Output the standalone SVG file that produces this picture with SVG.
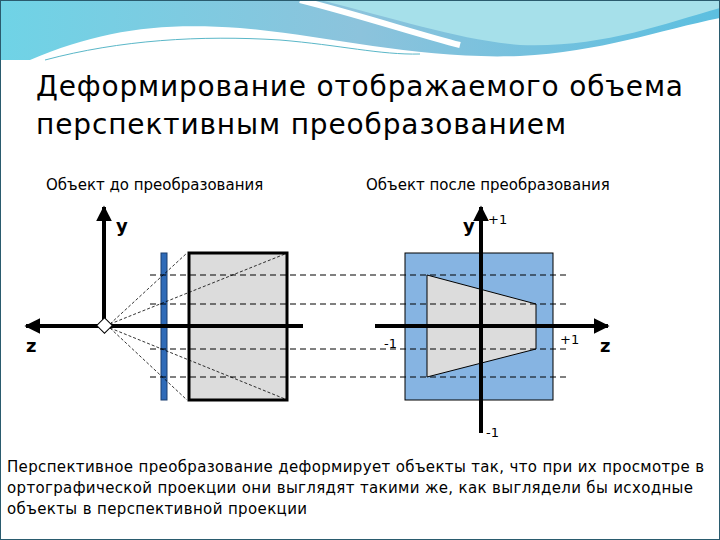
<svg xmlns="http://www.w3.org/2000/svg" width="720" height="540" viewBox="0 0 720 540">
<defs>
<linearGradient id="hg" x1="0" y1="0" x2="1" y2="0"><stop offset="0" stop-color="#6fd3e6"/><stop offset="0.5" stop-color="#8cc3dc"/><stop offset="1" stop-color="#5cbfe0"/></linearGradient>
<marker id="ar" viewBox="0 0 10 10" refX="9" refY="5" markerWidth="4" markerHeight="4" orient="auto"><path d="M0,0L10,5L0,10z" fill="#000"/></marker>
<style>
.ax{stroke:#000;stroke-width:4;fill:none}
.dash{stroke:#000;stroke-width:1;stroke-dasharray:6,4;fill:none}
.dot{stroke:#000;stroke-width:0.8;stroke-dasharray:3,2;fill:none}
.t{font-family:"DejaVu Sans",sans-serif;fill:#000}
.b{font-family:"DejaVu Sans",sans-serif;font-weight:bold;font-size:18px}
</style>
</defs>
<rect width="720" height="540" fill="#fff"/>
<g id="header">
<path d="M0,0H720V60H0z" fill="url(#hg)"/>
<path d="M30,60C100,30 160,22 240,28C330,36 420,60 520,56C600,52 660,30 720,18V60H0z" fill="#fff"/>
<path d="M320,0C400,20 460,40 520,45C600,48 660,25 720,8V0z" fill="#a6e0ea"/>
<path d="M300,0C360,15 420,35 460,45" stroke="#fff" stroke-width="6" fill="none"/>
<path d="M45,60C120,40 200,35 280,40C340,45 380,55 420,54" stroke="#5ab7c8" stroke-width="1" fill="none"/>
<rect x="0.5" y="0.5" width="719" height="539" fill="none" stroke="#2a5b6e" stroke-width="1"/>
</g>
<text class="t" x="36" y="96" font-size="28" fill="#404040" textLength="647" lengthAdjust="spacing">Деформирование отображаемого объема</text>
<text class="t" x="36" y="134" font-size="28" fill="#404040" textLength="530" lengthAdjust="spacing">перспективным преобразованием</text>
<text class="t" x="46" y="190" font-size="15">Объект до преобразования</text>
<text class="t" x="366" y="190" font-size="15">Объект после преобразования</text>
<g id="left">
<rect x="189" y="253" width="98" height="147" fill="#dcdcdc" stroke="#000" stroke-width="3"/>
<rect x="161" y="253" width="6" height="147" fill="#2f6bb8" stroke="#1a3f70" stroke-width="1"/>
<path class="dot" d="M110,324L187,253M110,324L285,254M110,328L187,400M110,328L285,399"/>
<line class="ax" x1="104" y1="326" x2="104" y2="207" marker-end="url(#ar)"/>
<line class="ax" x1="303" y1="326" x2="26" y2="326" marker-end="url(#ar)"/>
<rect x="99" y="320" width="11" height="11" fill="#fff" stroke="#000" stroke-width="1" transform="rotate(45 104.5 325.5)"/>
<text class="b" x="116" y="232">y</text>
<text class="b" x="26" y="352">z</text>
</g>
<g id="right">
<rect x="405" y="253" width="148" height="147" fill="#86b4e2" stroke="#000" stroke-width="1"/>
<path d="M427,275L536,304L536,349L427,377z" fill="#dcdcdc" stroke="#000" stroke-width="1"/>
<line class="ax" x1="481" y1="433" x2="481" y2="207" marker-end="url(#ar)"/>
<line class="ax" x1="375" y1="326" x2="608" y2="326" marker-end="url(#ar)"/>
<text class="b" x="463" y="232">y</text>
<text class="b" x="600" y="352">z</text>
<text class="t" x="488" y="224" font-size="13">+1</text>
<text class="t" x="384" y="348" font-size="13">-1</text>
<text class="t" x="560" y="344" font-size="13">+1</text>
<text class="t" x="486" y="437" font-size="13">-1</text>
</g>
<g id="connectors">
<path class="dash" d="M150,275H570M150,304H570M150,349H570M150,377H570"/>
</g>
<text class="t" x="7" y="472" font-size="15" textLength="697" lengthAdjust="spacing">Перспективное преобразование деформирует объекты так, что при их просмотре в</text>
<text class="t" x="7" y="493" font-size="15" textLength="686" lengthAdjust="spacing">ортографической проекции они выглядят такими же, как выглядели бы исходные</text>
<text class="t" x="7" y="514" font-size="15" textLength="300" lengthAdjust="spacing">объекты в перспективной проекции</text>
</svg>
